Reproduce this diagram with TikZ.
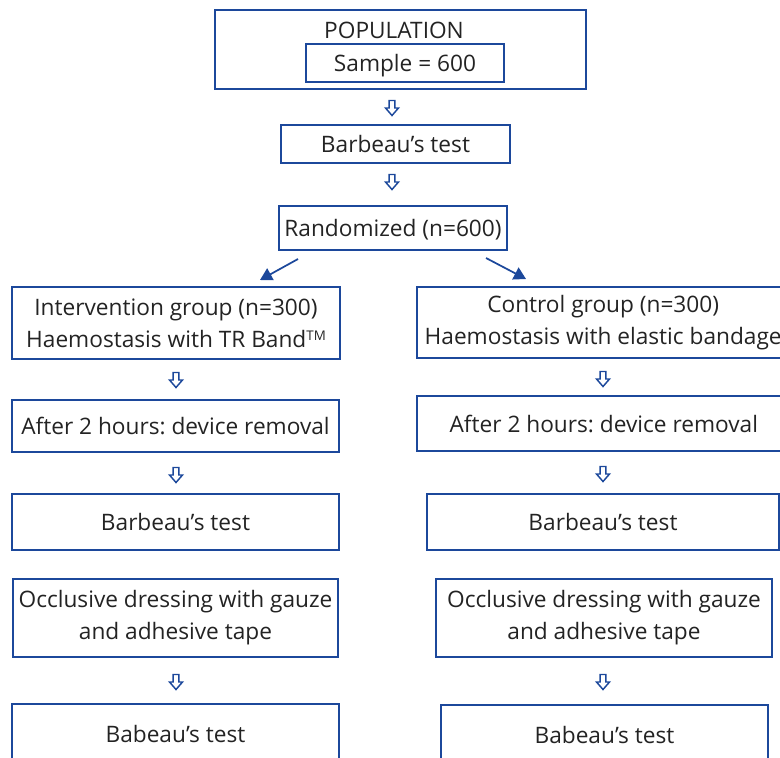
\documentclass[tikz,border=0pt]{standalone}
\usepackage{fontspec}
\setmainfont{Open Sans}
\frenchspacing
\usetikzlibrary{arrows.meta}
\definecolor{fblue}{RGB}{28,72,155}
\definecolor{ftext}{RGB}{35,35,35}
\tikzset{
  box/.style={draw=fblue, line width=2.1pt, inner sep=0pt, align=center, text=ftext, font=\fontsize{17pt}{24pt}\selectfont},
  one/.style={text depth=0pt},
  lbl/.style={inner sep=0pt, text=ftext, font=\fontsize{17pt}{24pt}\selectfont},
  harrow/.pic={\draw[fblue, line width=1.1pt, line join=miter] (-2.8,-7.5) -- (2.8,-7.5) -- (2.8,0) -- (6.5,0) -- (0,7.5) -- (-6.5,0) -- (-2.8,0) -- cycle;},
  diag/.style={fblue, line width=1.3pt, -{Triangle[length=9pt,width=10pt]}}
}
\begin{document}
\begin{tikzpicture}[x=0.75pt,y=-0.75pt]
\useasboundingbox (0,0) rectangle (780,757);
% top
\node[box, minimum width=371*0.75pt, minimum height=79*0.75pt] (pop) at (400.5,49.5) {};
\node[lbl, text depth=0pt] (poptxt) at (394,30) {POPULATION};
\node[box, one, minimum width=198*0.75pt, minimum height=38*0.75pt] (sample) at (405,63) {Sample = 600};
\node[box, one, minimum width=229*0.75pt, minimum height=38*0.75pt] (bt) at (395.5,144) {Barbeau’s test};
\node[box, one, minimum width=228*0.75pt, minimum height=44*0.75pt] (rand) at (393,228) {Randomized (n=600)};
% left column
\node[box, minimum width=328*0.75pt, minimum height=72*0.75pt] (int) at (176,323) {Intervention group (n=300)\\Haemostasis with TR Band\raisebox{0.55ex}{\fontsize{10pt}{10pt}\selectfont TM}};
\node[box, one, minimum width=327*0.75pt, minimum height=52*0.75pt] (aftL) at (175.5,426) {After 2 hours: device removal};
\node[box, one, minimum width=327*0.75pt, minimum height=56*0.75pt] (btL) at (175.5,522) {Barbeau’s test};
\node[box, minimum width=325*0.75pt, minimum height=78*0.75pt] (occL) at (175.5,618) {Occlusive dressing with gauze\\and adhesive tape};
\node[box, one, minimum width=327*0.75pt, minimum height=60*0.75pt] (babL) at (175.5,734) {Babeau’s test};
% right column
\node[box, minimum width=367*0.75pt, minimum height=71*0.75pt] (ctl) at (600.5,322.5) {\hspace*{4pt}Control group (n=300)\\\hspace*{4pt}Haemostasis with elastic bandage};
\node[box, one, minimum width=367*0.75pt, minimum height=55*0.75pt] (aftR) at (600.5,423.5) {\hspace*{5pt}After 2 hours: device removal};
\node[box, one, minimum width=352*0.75pt, minimum height=56*0.75pt] (btR) at (603,522) {Barbeau’s test};
\node[box, minimum width=336*0.75pt, minimum height=78*0.75pt] (occR) at (604,618) {Occlusive dressing with gauze\\and adhesive tape};
\node[box, one, minimum width=327*0.75pt, minimum height=60*0.75pt] (babR) at (604.5,735) {Babeau’s test};
% hollow arrows
\pic at (392,108) {harrow};
\pic at (392,182) {harrow};
\pic at (176,380) {harrow};
\pic at (603,379) {harrow};
\pic at (176,475) {harrow};
\pic at (603,474) {harrow};
\pic at (176,682) {harrow};
\pic at (603,682) {harrow};
% diagonal arrows
\coordinate (dl1) at (298,259);
\coordinate (dl2) at (260,280);
\coordinate (dr1) at (486,258);
\coordinate (dr2) at (526,279);
\draw[diag] (dl1) -- (dl2);
\draw[diag] (dr1) -- (dr2);
\end{tikzpicture}
\end{document}
